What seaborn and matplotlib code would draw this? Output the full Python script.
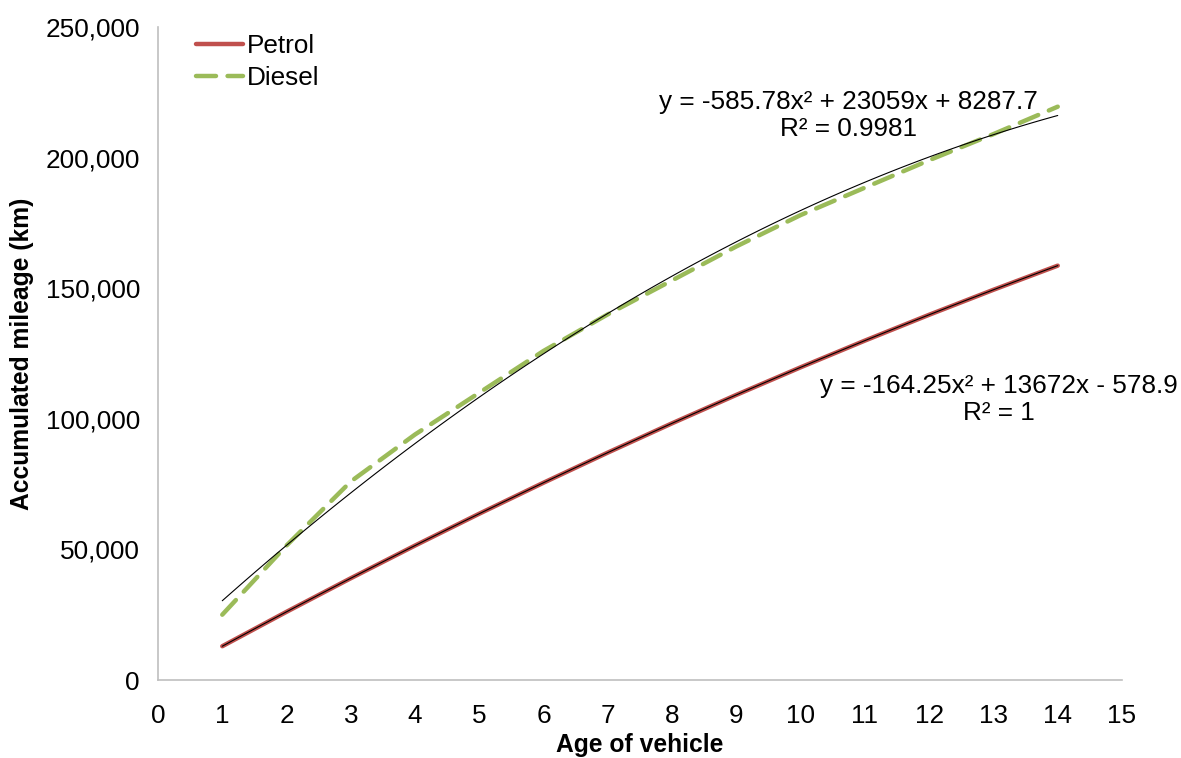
import matplotlib
matplotlib.use("Agg")
import matplotlib.pyplot as plt
import seaborn as sns
import pandas as pd
from matplotlib.ticker import FuncFormatter, MultipleLocator

age = [1, 2, 3, 4, 5, 6, 7, 8, 9, 10, 11, 12, 13, 14]
petrol = [12929, 26108, 38959, 51481, 63675, 75540, 87077, 98285,
          109165, 119716, 129939, 139833, 149399, 158636]
diesel = [25000, 51500, 76000, 94000, 110000, 126000, 140000, 153000,
          166000, 178000, 188500, 199000, 209000, 219500]
series_names = ["Petrol", "Diesel"]
eq_diesel = "y = -585.78x² + 23059x + 8287.7\nR² = 0.9981"
eq_petrol = "y = -164.25x² + 13672x - 578.9\nR² = 1"
x_label = "Age of vehicle"
y_label = "Accumulated mileage (km)"

sns.set_style("white")
plt.rcParams['font.family'] = ['Liberation Sans', 'DejaVu Sans']
plt.rcParams['text.color'] = 'black'
plt.rcParams['axes.labelcolor'] = 'black'

df = pd.DataFrame({"age": age * 2,
                   "km": petrol + diesel,
                   "fuel": [series_names[0]] * len(age) + [series_names[1]] * len(age)})

fig = plt.figure(figsize=(11.81, 7.58), dpi=100)
ax = fig.add_axes([158 / 1181, 1 - 680 / 758, (1122 - 158) / 1181, (680 - 27) / 758])

red = "#C0504D"
green = "#9BBB59"

sns.lineplot(data=df[df.fuel == "Petrol"], x="age", y="km", ax=ax, color=red,
             lw=3.2, label="Petrol", solid_capstyle="round")
sns.lineplot(data=df[df.fuel == "Diesel"], x="age", y="km", ax=ax, color=green,
             lw=3.2, label="Diesel", dashes=False)
ax.lines[-1].set_dashes((4.5, 2.6))
ax.lines[-1].set_dash_capstyle("round")

sns.regplot(x=age, y=petrol, order=2, ci=None, scatter=False, ax=ax,
            line_kws=dict(color="black", lw=0.8), truncate=True)
sns.regplot(x=age, y=diesel, order=2, ci=None, scatter=False, ax=ax,
            line_kws=dict(color="black", lw=0.8), truncate=True)

ax.set_xlim(0, 15)
ax.set_ylim(0, 250000)
ax.xaxis.set_major_locator(MultipleLocator(1))
ax.yaxis.set_major_locator(MultipleLocator(50000))
ax.yaxis.set_major_formatter(FuncFormatter(lambda v, p: f"{int(v):,}"))

for s in ["top", "right"]:
    ax.spines[s].set_visible(False)
for s in ["left", "bottom"]:
    ax.spines[s].set_color("#BFBFBF")
    ax.spines[s].set_linewidth(1.2)
ax.tick_params(axis="both", which="major", direction="out", length=6,
               width=1.2, color="#BFBFBF", labelsize=18.8, labelcolor="black")
ax.tick_params(axis="x", pad=11)
ax.tick_params(axis="y", pad=7)

ax.set_xlabel(x_label, fontsize=17.7, fontweight="bold", labelpad=4, color="black")
ax.set_ylabel(y_label, fontsize=17.7, fontweight="bold", labelpad=8, color="black")

ax.text(0.716, 0.865, eq_diesel, transform=ax.transAxes, ha="center",
        va="center", fontsize=18.8, linespacing=1.15, color="black")
ax.text(0.872, 0.429, eq_petrol, transform=ax.transAxes, ha="center",
        va="center", fontsize=18.8, linespacing=1.15, color="black")

leg = ax.legend(loc="upper left", bbox_to_anchor=(0.015, 1.025), frameon=False,
                fontsize=18.8, handlelength=1.8, handletextpad=0.15,
                labelspacing=0.3)
for t in leg.get_texts():
    t.set_color("black")

fig.savefig("out.png", dpi=100)
